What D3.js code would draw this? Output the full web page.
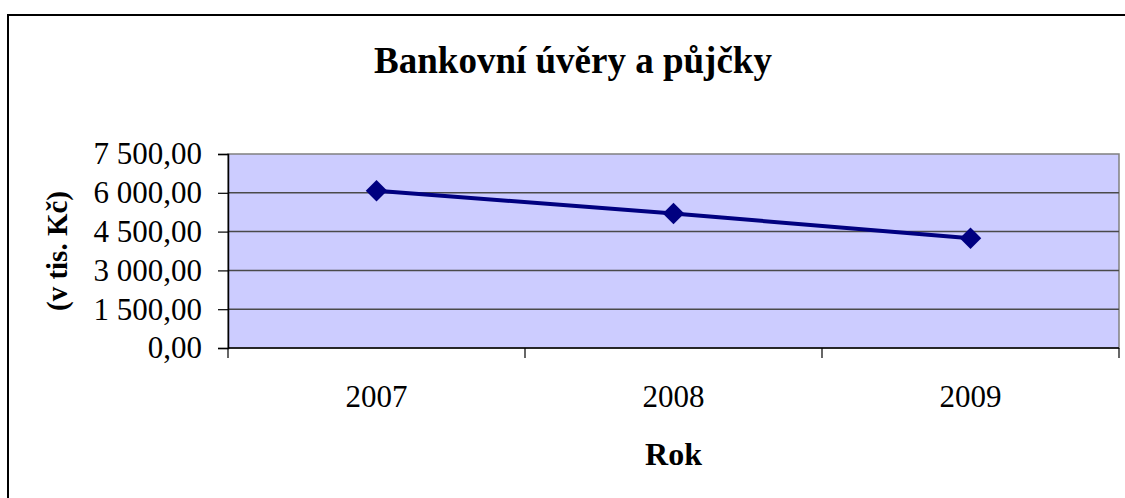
<!DOCTYPE html>
<html>
<head>
<meta charset="utf-8">
<script src="https://cdn.jsdelivr.net/npm/d3@7"></script>
<style>
  html, body { margin: 0; padding: 0; background: #fff; }
  svg { display: block; font-family: "Liberation Serif", "Times New Roman", serif; }
</style>
</head>
<body>
<div id="chart"></div>
<script>
// data
const years = ["2007", "2008", "2009"];
const loans = [6080, 5200, 4240];
const yTicks = [0, 1500, 3000, 4500, 6000, 7500];

const W = 1125, H = 498;
const plot = { left: 228, right: 1119, top: 154, bottom: 348 };

const svg = d3.select("#chart").append("svg").attr("width", W).attr("height", H);

// outer chart frame (runs off the right/bottom edge like the original)
svg.append("rect").attr("x", 8).attr("y", 15).attr("width", 1140).attr("height", 520)
  .attr("fill", "#fff").attr("stroke", "#000").attr("stroke-width", 2);

const x = d3.scaleBand().domain(years).range([plot.left, plot.right]);
const y = d3.scaleLinear().domain([0, 7500]).range([plot.bottom, plot.top]);

// plot area
svg.append("rect").attr("x", plot.left).attr("y", plot.top)
  .attr("width", plot.right - plot.left).attr("height", plot.bottom - plot.top)
  .attr("fill", "#CCCCFF").attr("stroke", "#808080").attr("stroke-width", 1.5);

// gridlines
svg.append("g").selectAll("line").data(yTicks.filter(d => d > 0 && d < 7500)).join("line")
  .attr("x1", plot.left).attr("x2", plot.right)
  .attr("y1", d => y(d)).attr("y2", d => y(d))
  .attr("stroke", "#4a4a4a").attr("stroke-width", 1.5);

// y axis, Czech number format "7 500,00"
const fmt = d => d3.format(",.2f")(d).replace(/,/g, " ").replace(".", ",");
const yAxis = svg.append("g").attr("transform", `translate(${plot.left},0)`)
  .call(d3.axisLeft(y).tickValues(yTicks).tickSize(10).tickPadding(16).tickFormat(fmt));
yAxis.select(".domain").attr("stroke", "#000").attr("stroke-width", 1.5);
yAxis.selectAll(".tick line").attr("stroke", "#000").attr("stroke-width", 1.2);
yAxis.selectAll("text").attr("font-size", 31).attr("fill", "#000")
  .attr("font-family", "Liberation Serif, serif");

// x axis: ticks at category boundaries, labels in the middle
const xAxis = svg.append("g").attr("transform", `translate(0,${plot.bottom})`);
xAxis.append("line").attr("x1", plot.left).attr("x2", plot.right)
  .attr("stroke", "#000").attr("stroke-width", 1.5);
const bounds = years.map(d => x(d)).concat([x(years[years.length - 1]) + x.bandwidth()]);
xAxis.selectAll("line.tk").data(bounds).join("line").attr("class", "tk")
  .attr("x1", d => d).attr("x2", d => d).attr("y1", 0).attr("y2", 10)
  .attr("stroke", "#000").attr("stroke-width", 1.2);
xAxis.selectAll("text").data(years).join("text")
  .attr("x", d => x(d) + x.bandwidth() / 2).attr("y", 59)
  .attr("text-anchor", "middle").attr("font-size", 31).text(d => d);

// line + diamond markers
const pts = years.map((d, i) => [x(d) + x.bandwidth() / 2, y(loans[i])]);
svg.append("path").attr("d", d3.line()(pts))
  .attr("fill", "none").attr("stroke", "#000080").attr("stroke-width", 4);
svg.append("g").selectAll("path").data(pts).join("path")
  .attr("d", d3.symbol(d3.symbolSquare, 230)())
  .attr("transform", d => `translate(${d[0]},${d[1]}) rotate(45)`)
  .attr("fill", "#000080");

// titles
svg.append("text").attr("x", 573).attr("y", 73).attr("text-anchor", "middle")
  .attr("font-size", 37).attr("font-weight", "bold").text("Bankovní úvěry a půjčky");
svg.append("text").attr("x", (plot.left + plot.right) / 2).attr("y", 465).attr("text-anchor", "middle")
  .attr("font-size", 32).attr("font-weight", "bold").text("Rok");
svg.append("text").attr("transform", `translate(67,${(plot.top + plot.bottom) / 2}) rotate(-90)`)
  .attr("text-anchor", "middle").attr("font-size", 29).attr("font-weight", "bold").text("(v tis. Kč)");
</script>
</body>
</html>
